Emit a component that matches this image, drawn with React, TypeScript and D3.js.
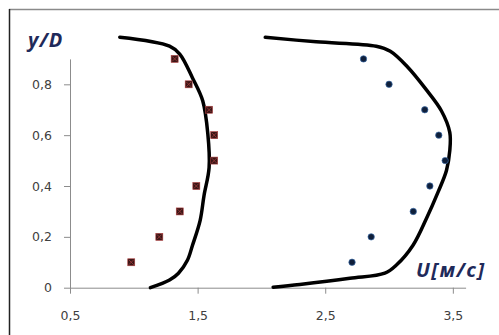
import React, { useEffect, useRef } from "react";
import * as d3 from "d3";

// Measured velocity profiles (y/D vs U, m/s)
const measuredY = [0.9, 0.8, 0.7, 0.6, 0.5, 0.4, 0.3, 0.2, 0.1];
const measuredU1 = [1.32, 1.43, 1.59, 1.63, 1.63, 1.49, 1.36, 1.2, 0.98];
const measuredU2 = [2.8, 3.0, 3.28, 3.39, 3.44, 3.32, 3.19, 2.86, 2.71];

// Computed profiles (smooth lines)
const calc1U = [0.89, 1.28, 1.36, 1.46, 1.54, 1.58, 1.59, 1.55, 1.52, 1.46, 1.42, 1.35, 1.28, 1.13];
const calc1Y = [0.985, 0.95, 0.919, 0.825, 0.735, 0.605, 0.472, 0.362, 0.265, 0.167, 0.108, 0.057, 0.03, 0.0];
const calc2U = [2.03, 2.43, 2.9, 3.01, 3.14, 3.29, 3.41, 3.476, 3.476, 3.45, 3.384, 3.293, 3.188, 3.058, 2.967, 2.693, 2.301, 2.092];
const calc2Y = [0.985, 0.967, 0.95, 0.93, 0.871, 0.78, 0.696, 0.611, 0.539, 0.461, 0.376, 0.272, 0.167, 0.089, 0.057, 0.037, 0.013, 0.002];

const xTicks = [0.5, 1.5, 2.5, 3.5];
const yTicks = [0, 0.2, 0.4, 0.6, 0.8];
const xLabel = "U[м/с]";
const yLabel = "y/D";

const W = 499;
const H = 335;

export default function App() {
  const xAxisRef = useRef<SVGGElement>(null);
  const yAxisRef = useRef<SVGGElement>(null);

  const x = d3.scaleLinear().domain([0.5, 3.6]).range([70, 465.6]);
  const y = d3.scaleLinear().domain([0, 0.9]).range([287.7, 58.9]);

  const fmt = (v: number) => (v === 0 ? "0" : d3.format(".1f")(v).replace(".", ","));

  useEffect(() => {
    const gx = d3.select(xAxisRef.current!);
    gx.call(
      d3.axisBottom(x).tickValues(xTicks).tickSizeInner(6).tickSizeOuter(0).tickPadding(17).tickFormat((d) => fmt(+d))
    );
    gx.select(".domain").attr("stroke", "#8c8c8c");
    gx.selectAll(".tick line").attr("stroke", "#8c8c8c");
    gx.selectAll(".tick text")
      .attr("fill", "#404040")
      .attr("font-size", 12.5)
      .attr("font-family", "DejaVu Sans, Verdana, sans-serif");

    const gy = d3.select(yAxisRef.current!);
    gy.call(
      d3.axisLeft(y).tickValues(yTicks).tickSizeInner(6).tickSizeOuter(0).tickPadding(12).tickFormat((d) => fmt(+d))
    );
    gy.select(".domain").attr("stroke", "#8c8c8c");
    gy.selectAll(".tick line").attr("stroke", "#8c8c8c");
    gy.selectAll(".tick text")
      .attr("fill", "#404040")
      .attr("font-size", 12.5)
      .attr("font-family", "DejaVu Sans, Verdana, sans-serif");
  }, []);

  const line = d3
    .line<[number, number]>()
    .x((d) => x(d[0]))
    .y((d) => y(d[1]))
    .curve(d3.curveCatmullRom.alpha(0.5));

  const c1 = calc1U.map((u, i) => [u, calc1Y[i]] as [number, number]);
  const c2 = calc2U.map((u, i) => [u, calc2Y[i]] as [number, number]);

  return (
    <svg width={W} height={H} style={{ position: "absolute", left: 0, top: 0, background: "#fff" }}>
      <rect x={0} y={0} width={W} height={H} fill="#fff" />
      {/* frame */}
      <line x1={9} y1={9.5} x2={W} y2={9.5} stroke="#8a8a8a" strokeWidth={1.5} />
      <line x1={9.5} y1={9} x2={9.5} y2={H} stroke="#222" strokeWidth={1.5} />

      <g ref={xAxisRef} transform={`translate(0,${y(0)})`} />
      <g ref={yAxisRef} transform={`translate(${x(0.5)},0)`} />

      <path d={line(c1) || ""} fill="none" stroke="#000" strokeWidth={3.5} strokeLinecap="round" strokeLinejoin="round" />
      <path d={line(c2) || ""} fill="none" stroke="#000" strokeWidth={3.5} strokeLinecap="round" strokeLinejoin="round" />

      {measuredU1.map((u, i) => {
        const cx = x(u);
        const cy = y(measuredY[i]);
        return (
          <g key={"s" + i}>
            <rect x={cx - 3.5} y={cy - 3.5} width={7} height={7} fill="#3a1616" stroke="#b04040" strokeWidth={0.6} />
            <path d={`M${cx - 2.5},${cy - 2.5}L${cx + 2.5},${cy + 2.5}M${cx + 2.5},${cy - 2.5}L${cx - 2.5},${cy + 2.5}`} stroke="#a03a3a" strokeWidth={0.8} />
          </g>
        );
      })}
      {measuredU2.map((u, i) => (
        <circle key={"c" + i} cx={x(u)} cy={y(measuredY[i])} r={3.2} fill="#0f1f3a" stroke="#3a6aa8" strokeWidth={0.7} />
      ))}

      <text x={28} y={47} fill="#1f2a5a" fontFamily="Open Sans, sans-serif" fontWeight="bold" fontStyle="italic" fontSize={20} letterSpacing={1}>
        {yLabel}
      </text>
      <text x={416} y={277} fill="#1f2a5a" fontFamily="Open Sans, sans-serif" fontWeight="bold" fontStyle="italic" fontSize={20} letterSpacing={1.5}>
        {xLabel}
      </text>
    </svg>
  );
}
